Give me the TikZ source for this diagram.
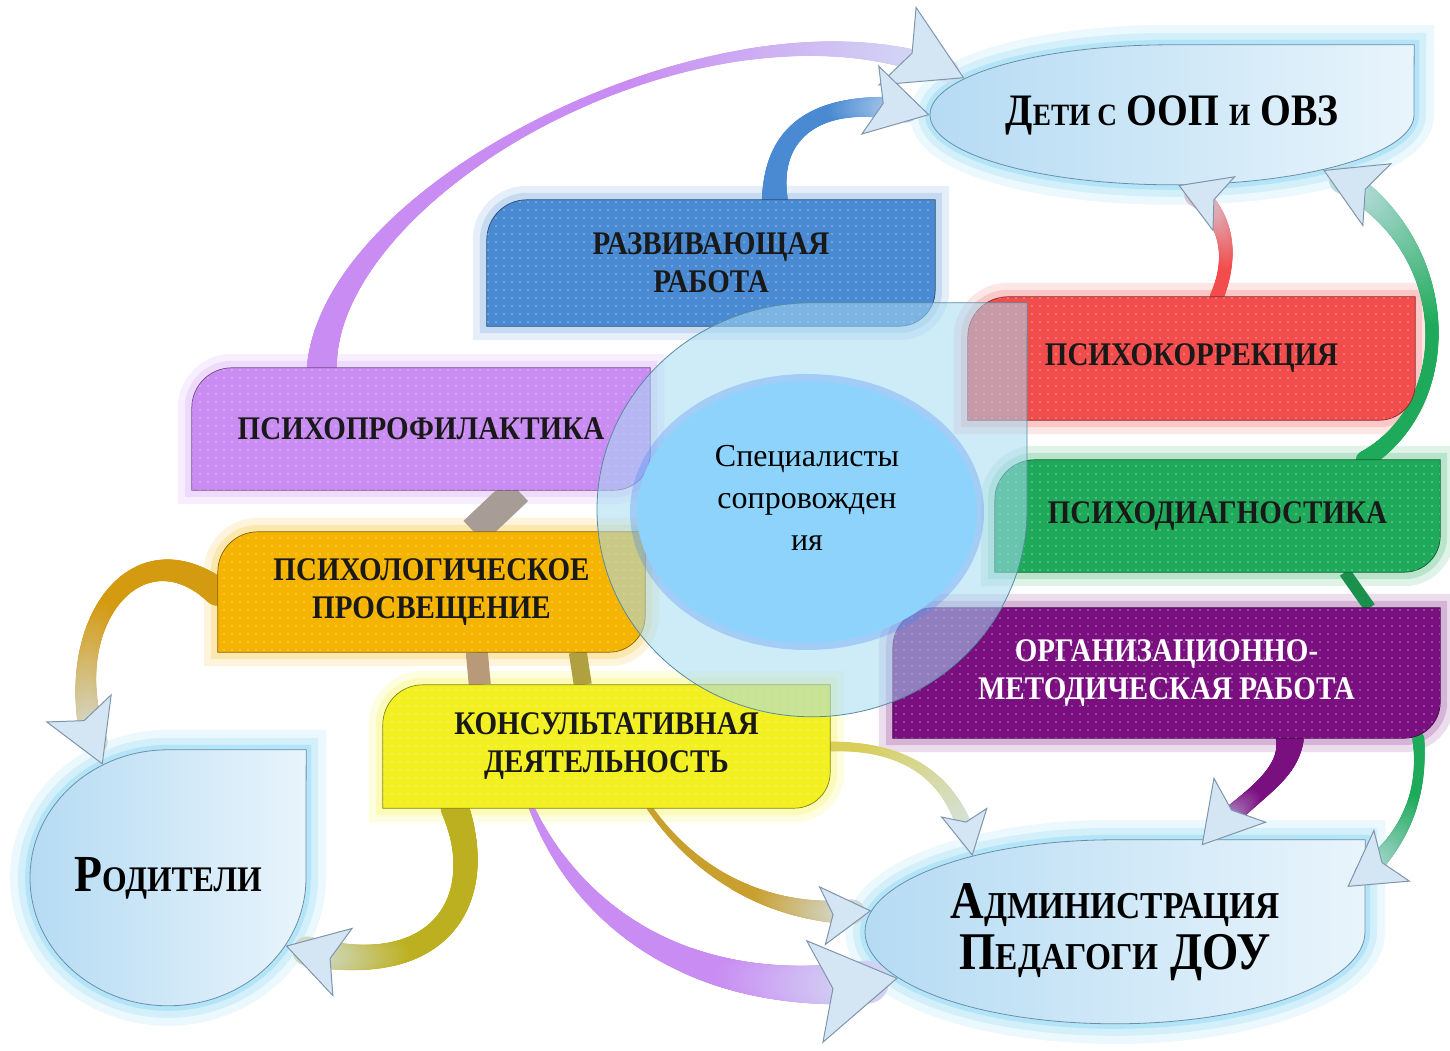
\documentclass[tikz,border=0pt]{standalone}
\usepackage{fontspec}
\setmainfont{Liberation Serif}
\newfontfamily\boxfont[FakeStretch=0.88]{Liberation Serif}
\usetikzlibrary{shapes.geometric,arrows.meta,decorations.markings,patterns.meta}
\definecolor{razvblue}{HTML}{4A8AD2}
\definecolor{profviolet}{HTML}{C98CF2}
\definecolor{prosvorange}{HTML}{F5B400}
\definecolor{prosvband}{HTML}{D49A10}
\definecolor{konsyellow}{HTML}{F2F020}
\definecolor{konsband}{HTML}{D8CE58}
\definecolor{oliveband}{HTML}{BDB020}
\definecolor{goldband}{HTML}{C9A030}
\definecolor{korrred}{HTML}{F24C4C}
\definecolor{diagngreen}{HTML}{1EAA5A}
\definecolor{orgpurple}{HTML}{7A0F80}
\definecolor{linkgray}{HTML}{A89C96}
\definecolor{linkbrown}{HTML}{B89A78}
\definecolor{linkolive}{HTML}{B0A040}
\definecolor{dropblue}{HTML}{B5DBF3}
\definecolor{dropedge}{HTML}{6B8FA8}
\definecolor{glowcyan}{HTML}{5CC4EE}
\definecolor{headfill}{HTML}{D4E5F4}
\definecolor{headedge}{HTML}{7F95AB}
\definecolor{specblue}{HTML}{8DD3FC}
\definecolor{ringblue}{HTML}{A6DAF2}
\pgfdeclarelayer{glow}
\pgfdeclarelayer{arrows}
\pgfdeclarelayer{boxes}
\pgfsetlayers{glow,arrows,boxes,main}

\newcommand\tabbox[1]{([yshift=-40pt]#1.north west) arc[start angle=180,end angle=90,radius=40pt] -- (#1.north east) -- ([yshift=36pt]#1.south east) arc[start angle=0,end angle=-90,radius=36pt] -- (#1.south west) -- cycle}
\newcommand\drop[3]{(#1.north) arc[start angle=90,end angle=360,x radius=#2pt,y radius=#3pt] .. controls +(0,0.55*#3) .. (#1.north -| #1.east) .. controls +(-0.45*#2,0) .. (#1.north) -- cycle}
\newcommand\smcsize{30}
\newcommand\smc[1]{{\fontsize{\smcsize}{\smcsize}\selectfont\MakeUppercase{#1}}}

\tikzset{
  tabtext/.style={font=\boxfont\bfseries\fontsize{33}{38}\selectfont, align=center, inner sep=0pt, text=black!90},
  droptext/.style n args={3}{ellipse, inner sep=0pt, align=center,
    font=\boxfont\bfseries\fontsize{#1}{#2}\selectfont\renewcommand\smcsize{#3}},
  tabglow/.style={draw=#1, line width=28pt, draw opacity=0.14, preaction={draw=#1, line width=14pt, draw opacity=0.2}},
  tabfill/.style={fill=#1, draw=#1!55!black, line width=0.7pt,
    postaction={pattern={Dots[distance=8pt,radius=0.9pt]}, pattern color=white, fill opacity=0.45}},
  dropfill/.style={left color=dropblue, right color=dropblue!30, draw=dropedge, line width=0.8pt,
    preaction={draw=glowcyan, line width=40pt, draw opacity=0.12},
    preaction={draw=glowcyan, line width=24pt, draw opacity=0.18},
    preaction={draw=glowcyan, line width=10pt, draw opacity=0.25}},
  band/.style n args={7}{postaction={decorate,decoration={markings,
    mark=between positions 0 and 1 step 1.2pt with {%
      \pgfmathsetmacro\bd{\pgfkeysvalueof{/pgf/decoration/mark info/distance from start}}%
      \pgfmathsetmacro\bl{\pgfdecoratedpathlength}%
      \pgfmathsetmacro\bt{\bd/\bl}%
      \pgfmathsetmacro\bw{max(1.5,0.5*((1-\bt)^2*#3+2*\bt*(1-\bt)*#4+\bt^2*#5))}%
      \pgfmathtruncatemacro\bp{max(0,min(100,100*(\bt-#2)/(1-#2)))}%
      \pgfmathsetmacro\bcut{\bl-0.4*#6}%
      \ifdim\bd pt<\bcut pt\fill[headfill!\bp!#1] (0,0) circle[radius=\bw pt];\fi}}},
    postaction={decorate,decoration={markings,
    mark=at position 0.999 with {\pgfmathsetmacro\bin{0.22*#6}%
      \arrow{Stealth[length=#6pt,width=#7pt,inset=\bin pt,line width=1pt,color=headedge,fill=headfill]}}}}}
}

\begin{document}
\begin{tikzpicture}[x=1pt,y=1pt]
\useasboundingbox (0,0) rectangle (1450,1050);

\node[tabtext, minimum width=448pt, minimum height=126pt] (razv) at (711,787) {РАЗВИВАЮЩАЯ\\РАБОТА};
\node[tabtext, minimum width=458pt, minimum height=122pt] (profil) at (421,621) {ПСИХОПРОФИЛАКТИКА};
\node[tabtext, minimum width=427pt, minimum height=120pt] (prosv) at (431.5,458) {ПСИХОЛОГИЧЕСКОЕ\\ПРОСВЕЩЕНИЕ};
\node[tabtext, minimum width=447pt, minimum height=123pt] (konsult) at (606.5,303.5) {КОНСУЛЬТАТИВНАЯ\\ДЕЯТЕЛЬНОСТЬ};
\node[tabtext, minimum width=447pt, minimum height=123pt] (korr) at (1191.5,691.5) {ПСИХОКОРРЕКЦИЯ};
\node[tabtext, minimum width=445pt, minimum height=112pt] (diagn) at (1217.5,534) {ПСИХОДИАГНОСТИКА};
\node[tabtext, minimum width=547pt, minimum height=130pt, text=white] (orgm) at (1166.5,377) {ОРГАНИЗАЦИОННО-\\МЕТОДИЧЕСКАЯ РАБОТА};

\node[droptext={45}{50}{31}, minimum width=484pt, minimum height=140pt] (deti) at (1172,935) {Д\smc{ети с} ООП \smc{и} ОВЗ};
\node[droptext={52}{56}{36}, minimum width=276pt, minimum height=256pt] (roditeli) at (168,172) {Р\smc{одители}};
\node[droptext={53}{51}{38}, minimum width=500pt, minimum height=184pt] (admin) at (1115,118) {А\smc{дминистрация}\\П\smc{едагоги} ДОУ};

\node[ellipse, minimum width=430pt, minimum height=414pt, inner sep=0pt] (ring) at (812,540) {};
\node[ellipse, minimum width=340pt, minimum height=262pt, inner sep=0pt, fill=specblue,
  font=\fontsize{32}{42}\selectfont, preaction={draw=glowcyan!70!blue, line width=14pt, draw opacity=0.3}] (spec) at (807,538)
  {\raisebox{12pt}[\height][\depth]{\begin{tabular}{@{}c@{}}Специалисты\\сопровожден\\ия\end{tabular}}};

\begin{pgfonlayer}{glow}
\path[dropfill] \drop{deti}{242}{70};
\path[dropfill] \drop{roditeli}{138}{128};
\path[dropfill] \drop{admin}{250}{92};
\foreach \n/\c in {razv/razvblue,profil/profviolet,prosv/prosvorange,konsult/konsyellow,korr/korrred,diagn/diagngreen,orgm/orgpurple}
  \path[tabglow=\c] \tabbox{\n};
\end{pgfonlayer}

\begin{pgfonlayer}{arrows}
\draw[line width=30pt, linkgray] ([xshift=326pt]profil.south west) -- ([xshift=256pt]prosv.north west);
\draw[line width=22pt, linkbrown] ([xshift=259pt]prosv.south west) -- ([xshift=97pt]konsult.north west);
\draw[line width=18pt, linkolive] ([xshift=360pt]prosv.south west) -- ([xshift=200pt]konsult.north west);
\draw[line width=12pt, diagngreen!85!black] ([xshift=350pt]diagn.south west) -- ([xshift=477pt]orgm.north west);
\path[band={profviolet}{0.55}{30}{-10}{26}{75}{88}] ([xshift=130pt]profil.north west) .. controls (330,870) and (740,1080) .. (deti.170);
\path[band={razvblue}{0.55}{26}{6}{30}{62}{72}] ([xshift=288pt]razv.north west) .. controls (770,940) and (850,955) .. (deti.180);
\path[band={korrred}{0.25}{14}{10}{28}{50}{60}] ([xshift=249pt]korr.north west) .. controls (1240,810) and (1215,850) .. (deti.275);
\path[band={diagngreen}{0.45}{18}{4}{30}{60}{70}] ([xshift=370pt]diagn.north west) .. controls (1465,650) and (1455,820) .. (deti.340);
\path[band={prosvband}{0.45}{28}{8}{30}{62}{72}] (prosv.west) .. controls (130,530) and (50,410) .. (roditeli.120);
\path[band={oliveband}{0.6}{28}{16}{32}{60}{72}] ([xshift=72pt]konsult.south west) .. controls (490,150) and (440,60) .. (roditeli.330);
\path[band={konsband}{0.15}{10}{6}{20}{45}{48}] (konsult.east) .. controls (920,305) and (960,260) .. (admin.152);
\path[band={goldband}{0.55}{6}{8}{28}{50}{60}] ([xshift=267pt]konsult.south west) .. controls (700,170) and (780,130) .. (admin.175);
\path[band={profviolet}{0.6}{6}{26}{46}{85}{105}] ([xshift=149pt]konsult.south west) .. controls (580,130) and (700,40) .. (admin.192);
\path[band={orgpurple}{0.5}{28}{8}{28}{60}{70}] ([xshift=397pt]orgm.south west) .. controls (1290,270) and (1240,250) .. (admin.45);
\path[band={diagngreen}{0.35}{12}{6}{26}{55}{64}] ([xshift=-22pt]orgm.south east) .. controls (1425,250) and (1400,200) .. ([xshift=-18pt,yshift=45pt]admin.east);
\end{pgfonlayer}

\begin{pgfonlayer}{boxes}
\foreach \n/\c in {razv/razvblue,profil/profviolet,prosv/prosvorange,konsult/konsyellow,korr/korrred,diagn/diagngreen,orgm/orgpurple}
  \path[tabfill=\c] \tabbox{\n};
\path[fill=ringblue, fill opacity=0.55, draw=dropedge!80!teal, line width=0.8pt] \drop{ring}{215}{207};
\end{pgfonlayer}
\end{tikzpicture}
\end{document}
